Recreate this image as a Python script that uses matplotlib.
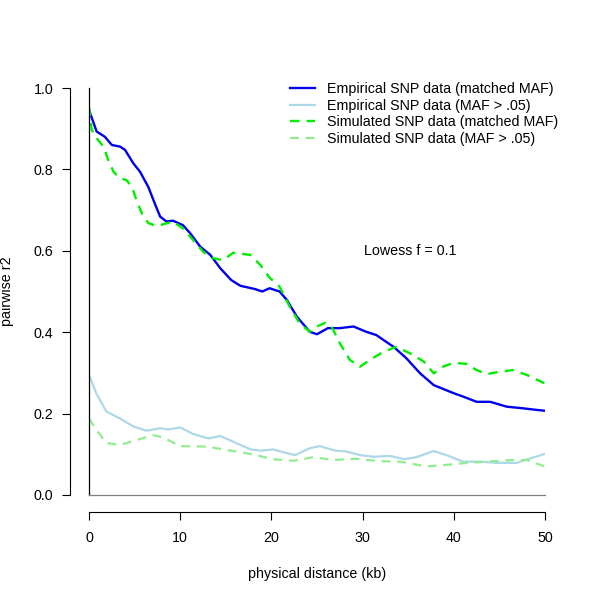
import numpy as np
import matplotlib
matplotlib.use("Agg")
import matplotlib.pyplot as plt

plt.rcParams["font.family"] = ["Liberation Sans", "DejaVu Sans"]

# smoothed curves (distance kb, pairwise r2)
emp_matched_x = [0, 0.84, 1.75, 2.5, 3.4, 3.95, 4.86, 5.6, 6.5, 7.2, 7.8, 8.5, 9.2, 10.3,
                 11.1, 12.2, 13.3, 14.4, 15.6, 16.6, 18.2, 19.0, 19.8, 20.9, 21.7, 22.8,
                 24.2, 25.0, 26.2, 27.5, 29.0, 30.4, 31.5, 33.4, 34.8, 36.3, 37.8, 40.0,
                 41.0, 42.5, 44.0, 45.8, 47.6, 49.1, 50.0]
emp_matched_y = [0.946, 0.893, 0.88, 0.86, 0.856, 0.848, 0.815, 0.794, 0.757, 0.717, 0.684,
                 0.672, 0.674, 0.663, 0.643, 0.610, 0.590, 0.557, 0.528, 0.514, 0.506, 0.50,
                 0.508, 0.50, 0.479, 0.438, 0.401, 0.395, 0.410, 0.410, 0.414, 0.401, 0.393,
                 0.364, 0.336, 0.299, 0.27, 0.25, 0.242, 0.229, 0.229, 0.217, 0.213, 0.209,
                 0.207]

emp_all_x = [0, 0.8, 1.9, 3.4, 4.9, 6.3, 7.8, 8.7, 10.0, 11.4, 13.1, 14.4, 15.8, 17.7,
             18.9, 20.2, 21.5, 22.6, 24.2, 25.3, 27.0, 28.2, 29.7, 31.2, 33.0, 34.6, 35.9,
             37.8, 39.2, 41.0, 42.9, 44.7, 46.9, 48.4, 50.0]
emp_all_y = [0.295, 0.25, 0.205, 0.188, 0.168, 0.158, 0.164, 0.161, 0.166, 0.150, 0.139,
             0.145, 0.131, 0.112, 0.109, 0.112, 0.104, 0.098, 0.115, 0.120, 0.109, 0.107,
             0.098, 0.094, 0.096, 0.088, 0.093, 0.108, 0.098, 0.082, 0.082, 0.079, 0.079,
             0.090, 0.101]

sim_matched_x = [0, 0.3, 1.0, 1.6, 2.1, 2.7, 3.4, 4.1, 4.7, 5.2, 5.8, 6.5, 7.4, 8.3, 9.2,
                 10.3, 11.4, 12.5, 13.6, 14.7, 15.8, 17.7, 18.8, 19.8, 20.9, 22.0, 23.1,
                 24.2, 25.0, 25.9, 26.6, 27.5, 28.6, 29.7, 30.8, 32.3, 33.7, 35.2, 36.7,
                 37.8, 38.8, 40.0, 41.4, 42.5, 43.6, 45.1, 46.5, 48.0, 50.0]
sim_matched_y = [0.954, 0.897, 0.872, 0.856, 0.823, 0.794, 0.778, 0.774, 0.757, 0.725,
                 0.692, 0.668, 0.661, 0.666, 0.672, 0.655, 0.627, 0.598, 0.582, 0.577,
                 0.595, 0.590, 0.565, 0.534, 0.512, 0.463, 0.422, 0.401, 0.414, 0.423,
                 0.414, 0.373, 0.332, 0.315, 0.332, 0.352, 0.364, 0.348, 0.328, 0.299,
                 0.315, 0.325, 0.322, 0.307, 0.297, 0.303, 0.307, 0.295, 0.274]

sim_all_x = [0, 0.8, 1.9, 3.4, 5.2, 7.0, 8.1, 10.0, 12.9, 14.7, 17.7, 20.2, 22.4, 24.6,
             26.8, 29.3, 31.9, 34.1, 37.0, 39.2, 41.0, 43.6, 46.5, 48.0, 50.0]
sim_all_y = [0.188, 0.160, 0.128, 0.123, 0.135, 0.147, 0.142, 0.120, 0.119, 0.112, 0.101,
             0.088, 0.084, 0.093, 0.086, 0.089, 0.083, 0.082, 0.070, 0.074, 0.078, 0.082,
             0.086, 0.086, 0.070]

labels = ["Empirical SNP data (matched MAF)", "Empirical SNP data (MAF > .05)",
          "Simulated SNP data (matched MAF)", "Simulated SNP data (MAF > .05)"]

fs = 10.3

fig = plt.figure(figsize=(6, 6), dpi=100)
ax = fig.add_axes([89 / 600, 105 / 600, 456 / 600, 407 / 600])

ax.plot(emp_matched_x, emp_matched_y, color="#0000ee", lw=1.7, label=labels[0])
ax.plot(emp_all_x, emp_all_y, color="lightblue", lw=1.6, label=labels[1])
ax.plot(sim_matched_x, sim_matched_y, color="#00ee00", lw=1.7, ls=(0, (4, 3)), label=labels[2])
ax.plot(sim_all_x, sim_all_y, color="lightgreen", lw=1.6, ls=(0, (4, 3)), label=labels[3])

# reference lines at origin
ax.plot([0, 0], [0, 1], color="black", lw=0.9, clip_on=False)
ax.plot([0, 50], [0, 0], color="gray", lw=0.9, clip_on=False)

ax.set_xlim(0, 50)
ax.set_ylim(0, 1)
ax.set_xticks([0, 10, 20, 30, 40, 50])
ax.set_yticks([0, 0.2, 0.4, 0.6, 0.8, 1.0])
ax.set_yticklabels(["0.0", "0.2", "0.4", "0.6", "0.8", "1.0"], rotation=90, va="center")

for s in ["top", "right"]:
    ax.spines[s].set_visible(False)
ax.spines["left"].set_position(("outward", 13.7))
ax.spines["bottom"].set_position(("outward", 12.2))
ax.spines["left"].set_linewidth(0.8)
ax.spines["bottom"].set_linewidth(0.8)
ax.tick_params(axis="both", length=5.8, width=0.8, labelsize=fs)
ax.tick_params(axis="y", pad=6)
ax.tick_params(axis="x", pad=8)

ax.set_xlabel("physical distance (kb)", fontsize=fs, labelpad=16)
ax.set_ylabel("pairwise r2", fontsize=fs, labelpad=14)

ax.text(35.2, 0.60, "Lowess f = 0.1", fontsize=fs, ha="center", va="center")

ax.legend(loc="upper left", bbox_to_anchor=(0.44, 1.014), frameon=False, fontsize=fs,
          handlelength=1.75, handletextpad=0.85, labelspacing=0.18, borderpad=0,
          borderaxespad=0)

fig.savefig("out.png", dpi=100)
